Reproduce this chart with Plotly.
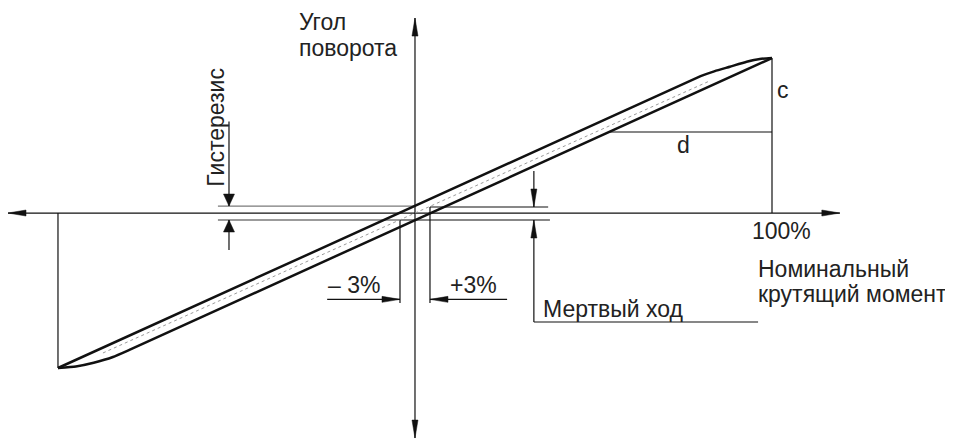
import plotly.graph_objects as go

# Torque (% of nominal) on x, twist angle (% of angle at nominal torque) on y
AXIS_X = [-114.0, 119.0]
AXIS_Y = [-145.2, 125.8]

# Hysteresis loop: loading branch (lower) and unloading branch (upper)
upper_x = [-100.0, 80.0, 84.0, 88.2, 92.9, 96.6, 100.0]
upper_y = [-100.0, 88.3, 91.6, 94.4, 97.6, 99.4, 100.0]
lower_x = [100.0, -80.0, -84.6, -90.0, -95.0, -100.0]
lower_y = [100.0, -88.3, -92.9, -96.6, -99.0, -100.0]
center_x = [-87.4, 82.6]
center_y = [-90.3, 85.3]

HYST = 4.5          # half hysteresis on the angle axis
DEAD = 4.2          # half dead band on the torque axis ("3%")
DEAD_TOP = 3.9
D_LEVEL = 52.3      # level of the "d" dimension
D_START = 54.6

# pixel scale of the drawing (px per unit) - used for arrow heads only
SX, SY = 3.57, 1.55

fig = go.Figure()


def seg_trace(segs, color, width, dash='solid'):
    xs, ys = [], []
    for (x0, y0), (x1, y1) in segs:
        xs += [x0, x1, None]
        ys += [y0, y1, None]
    return go.Scatter(x=xs, y=ys, mode='lines', hoverinfo='skip', showlegend=False,
                      line=dict(color=color, width=width, dash=dash))


def arrow_head(tip, direction, length, width):
    # direction in screen sense: 'r', 'l', 'u', 'd'
    tx, ty = tip
    dx, dy = {'r': (1, 0), 'l': (-1, 0), 'u': (0, 1), 'd': (0, -1)}[direction]
    bx, by = tx - dx * length / SX, ty - dy * length / SY
    px, py = -dy * width / 2 / SX, dx * width / 2 / SY
    return [tx, bx + px, bx - px, tx, None], [ty, by + py, by - py, ty, None]


black_segs = [
    ((AXIS_X[0], 0), (AXIS_X[1], 0)),
    ((0, AXIS_Y[0]), (0, AXIS_Y[1])),
    ((-100, 0), (-100, -100)),
    ((100, 0), (100, 100)),
    ((D_START, D_LEVEL), (100, D_LEVEL)),
    # hysteresis dimension
    ((-52.1, 59.0), (-52.1, HYST)),
    ((-52.1, -HYST), (-52.1, -23.9)),
    # dead band
    ((DEAD, DEAD_TOP), (37.3, DEAD_TOP)),
    ((-DEAD, -HYST), (37.8, -HYST)),
    ((-DEAD, -HYST), (-DEAD, -58.1)),
    ((DEAD, DEAD_TOP), (DEAD, -58.1)),
    ((-24.6, -55.7), (-DEAD, -55.7)),
    ((25.8, -55.7), (DEAD, -55.7)),
    ((33.3, 27.1), (33.3, DEAD_TOP)),
    ((33.3, -HYST), (33.3, -70.3)),
    ((33.3, -70.3), (96.1, -70.3)),
]
gray_segs = [
    ((-55.2, HYST), (0, HYST)),
    ((-55.2, -HYST), (-DEAD, -HYST)),
]

fig.add_trace(seg_trace(gray_segs, '#7a7a7a', 1.3))
fig.add_trace(seg_trace(black_segs, '#111', 1.2))

fig.add_trace(go.Scatter(x=center_x, y=center_y, mode='lines', hoverinfo='skip', showlegend=False,
                         line=dict(color='#9a9a9a', width=1, dash='dot')))
for bx, by in [(upper_x, upper_y), (lower_x, lower_y)]:
    fig.add_trace(go.Scatter(x=bx, y=by, mode='lines', hoverinfo='skip', showlegend=False,
                             line=dict(color='#111', width=2.5, shape='spline', smoothing=0.4)))

heads = [
    ((AXIS_X[1], 0), 'r', 18, 6), ((AXIS_X[0], 0), 'l', 18, 6),
    ((0, AXIS_Y[1]), 'u', 18, 6), ((0, AXIS_Y[0]), 'd', 18, 6),
    ((-52.1, HYST), 'd', 12, 11), ((-52.1, -HYST), 'u', 12, 11),
    ((33.3, DEAD_TOP), 'd', 18, 6), ((33.3, -HYST), 'u', 18, 6),
    ((-DEAD, -55.7), 'r', 18, 6), ((DEAD, -55.7), 'l', 18, 6),
]
hx, hy = [], []
for tip, d, ln, w in heads:
    ax_, ay_ = arrow_head(tip, d, ln, w)
    hx += ax_
    hy += ay_
fig.add_trace(go.Scatter(x=hx, y=hy, mode='lines', fill='toself', fillcolor='#111',
                         line=dict(color='#111', width=0.5), hoverinfo='skip', showlegend=False))

FONT = dict(family='Liberation Sans, Arial, sans-serif', size=23, color='#222')
labels = [
    ('Угол', -33.0, 123.4, 'left', 0),
    ('поворота', -33.0, 106.4, 'left', 0),
    ('Гистерезис', -55.7, 55.2, 'center', -90),
    ('– 3%', -17.1, -46.6, 'center', 0),
    ('+3%', 16.5, -46.6, 'center', 0),
    ('100%', 93.8, -11.9, 'left', 0),
    ('Номинальный', 95.5, -35.9, 'left', 0),
    ('крутящий момент', 95.5, -52.5, 'left', 0),
    ('Мертвый ход', 35.3, -62.0, 'left', 0),
    ('c', 103.1, 79.7, 'center', 0),
    ('d', 75.1, 43.6, 'center', 0),
]
for text, x, y, anchor, angle in labels:
    fig.add_annotation(x=x, y=y, text=text, showarrow=False, xanchor=anchor, yanchor='middle',
                       textangle=angle, font=FONT)

# the page body keeps its 8px margin, so the figure is 8px smaller and the
# ranges start 8px further in
fig.update_layout(
    width=945, height=433,
    margin=dict(l=0, r=0, t=0, b=0),
    paper_bgcolor='white', plot_bgcolor='white',
    xaxis=dict(range=[-114.0, 150.7], visible=False, fixedrange=True),
    yaxis=dict(range=[-147.1, 132.3], visible=False, fixedrange=True),
    showlegend=False,
)

fig.write_html("out.html")
